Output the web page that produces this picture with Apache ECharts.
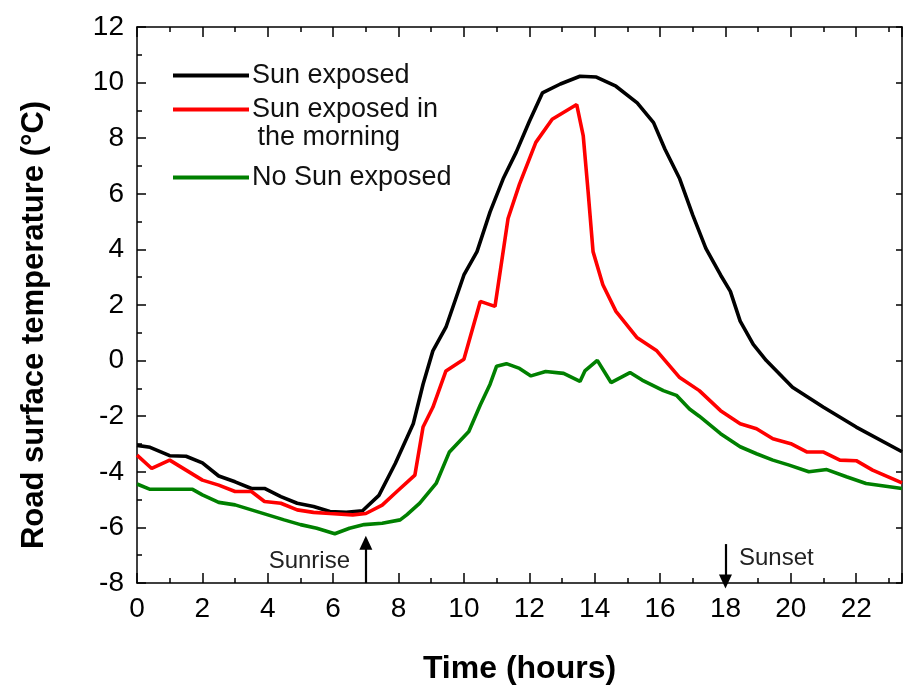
<!DOCTYPE html>
<html>
<head>
<meta charset="utf-8">
<script src="https://cdn.jsdelivr.net/npm/echarts@6/dist/echarts.min.js"></script>
<style>
  html, body { margin: 0; padding: 0; background: #fff; }
  #chart { width: 903px; height: 690px; }
</style>
</head>
<body>
<div id="chart"></div>
<script>
// 数据（小时, °C）
const sunHours = [0, 0.4, 1.0, 1.5, 2.0, 2.5, 3.0, 3.5, 3.9, 4.4, 4.9, 5.4, 5.9, 6.4, 6.9, 7.4, 7.9, 8.45, 8.75, 9.05, 9.45, 10.0, 10.4, 10.8, 11.2, 11.6, 12.0, 12.4, 12.95, 13.55, 14.05, 14.65, 15.3, 15.8, 16.15, 16.6, 17.0, 17.4, 17.85, 18.15, 18.45, 18.85, 19.25, 20.05, 21.0, 22.0, 23.4];
const sunTemp = [-3.05, -3.12, -3.42, -3.44, -3.68, -4.15, -4.36, -4.6, -4.6, -4.89, -5.13, -5.25, -5.43, -5.46, -5.4, -4.85, -3.7, -2.27, -0.85, 0.35, 1.2, 3.08, 3.92, 5.35, 6.54, 7.5, 8.6, 9.63, 9.95, 10.23, 10.2, 9.87, 9.27, 8.56, 7.6, 6.54, 5.23, 4.04, 3.08, 2.49, 1.42, 0.58, 0, -0.96, -1.68, -2.39, -3.28];

const morningHours = [0, 0.45, 1.0, 1.5, 2.0, 2.5, 3.0, 3.5, 3.9, 4.4, 4.9, 5.4, 5.9, 6.6, 7.0, 7.5, 7.95, 8.5, 8.75, 9.05, 9.45, 10.0, 10.5, 10.95, 11.35, 11.7, 12.2, 12.7, 13.45, 13.65, 13.8, 13.95, 14.25, 14.65, 15.3, 15.9, 16.6, 17.2, 17.85, 18.45, 18.95, 19.45, 20.0, 20.5, 21.0, 21.5, 22.0, 22.5, 23.4];
const morningTemp = [-3.4, -3.88, -3.58, -3.94, -4.3, -4.48, -4.71, -4.71, -5.07, -5.13, -5.37, -5.46, -5.5, -5.55, -5.5, -5.2, -4.71, -4.12, -2.39, -1.68, -0.37, 0.05, 2.13, 1.95, 5.11, 6.35, 7.85, 8.68, 9.21, 8.08, 6.06, 3.92, 2.73, 1.77, 0.82, 0.35, -0.61, -1.08, -1.8, -2.27, -2.45, -2.81, -2.99, -3.29, -3.29, -3.58, -3.6, -3.94, -4.4];

const shadeHours = [0, 0.4, 1.7, 2.0, 2.5, 3.0, 3.5, 4.0, 4.5, 5.0, 5.5, 6.05, 6.5, 6.95, 7.5, 8.05, 8.25, 8.65, 9.15, 9.55, 10.15, 10.5, 10.8, 11.0, 11.3, 11.7, 12.05, 12.5, 13.05, 13.55, 13.7, 14.08, 14.5, 15.08, 15.45, 16.1, 16.5, 16.9, 17.2, 17.85, 18.45, 18.95, 19.45, 19.95, 20.55, 21.1, 21.7, 22.3, 23.4];
const shadeTemp = [-4.44, -4.63, -4.63, -4.83, -5.1, -5.19, -5.37, -5.55, -5.73, -5.9, -6.03, -6.23, -6.03, -5.9, -5.85, -5.73, -5.55, -5.13, -4.42, -3.3, -2.55, -1.6, -0.85, -0.2, -0.11, -0.28, -0.55, -0.39, -0.46, -0.75, -0.37, 0.01, -0.79, -0.43, -0.7, -1.08, -1.25, -1.74, -2.0, -2.63, -3.1, -3.35, -3.58, -3.76, -4.0, -3.92, -4.18, -4.42, -4.6];

const seriesNames = ['Sun exposed', 'Sun exposed in the morning', 'No Sun exposed'];
const seriesColors = ['#000000', '#ff0000', '#008000'];
const sunriseHour = 7;
const sunsetHour = 18;

const zip = (xs, ys) => xs.map((x, i) => [x, ys[i]]);

const chart = echarts.init(document.getElementById('chart'));
const font = 'Liberation Sans, Arial, sans-serif';
const axisColor = { color: '#000', width: 1.5 };

const legendItem = (name, top, label) => ({
  data: [name],
  left: 168,
  top: top,
  icon: 'rect',
  itemWidth: 76,
  itemHeight: 4,
  selectedMode: false,
  formatter: () => label,
  textStyle: { fontFamily: font, fontSize: 27, color: '#111', padding: [0, 0, 0, -2] }
});

const lineSeries = (i, data, extra) => Object.assign({
  name: seriesNames[i],
  type: 'line',
  data: data,
  showSymbol: false,
  symbol: 'none',
  lineStyle: { color: seriesColors[i], width: 3.6 },
  itemStyle: { color: seriesColors[i] },
  xAxisIndex: 0,
  yAxisIndex: 0
}, extra || {});

const arrowLine = (x, from, to) => [{ coord: [x, from] }, { coord: [x, to] }];

chart.setOption({
  animation: false,
  grid: { left: 137, right: 1, top: 27, bottom: 103 },
  legend: [
    legendItem(seriesNames[0], 57, 'Sun exposed'),
    legendItem(seriesNames[1], 91, 'Sun exposed in'),
    legendItem(seriesNames[2], 159, 'No Sun exposed')
  ],
  xAxis: [{
    type: 'value', min: 0, max: 23.4, interval: 2,
    axisLine: { onZero: false, lineStyle: axisColor },
    axisTick: { inside: true, length: 10, lineStyle: axisColor },
    minorTick: { show: true, splitNumber: 2, length: 5, lineStyle: axisColor },
    splitLine: { show: false },
    axisLabel: { fontFamily: font, fontSize: 28, color: '#000', margin: 12, showMaxLabel: false },
    name: 'Time (hours)', nameLocation: 'middle', nameGap: 70,
    nameTextStyle: { fontFamily: font, fontSize: 32, fontWeight: 'bold', color: '#000' }
  }, {
    type: 'value', min: 0, max: 23.4, interval: 2, position: 'top',
    axisLine: { onZero: false, lineStyle: axisColor },
    axisTick: { inside: true, length: 10, lineStyle: axisColor },
    minorTick: { show: true, splitNumber: 2, length: 5, lineStyle: axisColor },
    splitLine: { show: false },
    axisLabel: { show: false }
  }],
  yAxis: [{
    type: 'value', min: -8, max: 12, interval: 2,
    axisLine: { show: true, onZero: false, lineStyle: axisColor },
    axisTick: { show: true, inside: true, length: 9, lineStyle: axisColor },
    minorTick: { show: true, splitNumber: 2, length: 5, lineStyle: axisColor },
    splitLine: { show: false },
    axisLabel: { fontFamily: font, fontSize: 28, color: '#000', margin: 13 }
  }, {
    type: 'value', min: -8, max: 12, interval: 2, position: 'right',
    axisLine: { show: true, onZero: false, lineStyle: axisColor },
    axisTick: { show: true, inside: true, length: 6, lineStyle: axisColor },
    splitLine: { show: false },
    axisLabel: { show: false }
  }],
  series: [
    lineSeries(0, zip(sunHours, sunTemp), {
      markLine: {
        silent: true,
        symbol: ['none', 'triangle'],
        symbolSize: [13, 14],
        label: { show: false },
        lineStyle: { color: '#000', width: 2.2, type: 'solid' },
        data: [
          arrowLine(sunriseHour, -8, -6.55),
          arrowLine(sunsetHour, -6.6, -7.95)
        ]
      }
    }),
    lineSeries(1, zip(morningHours, morningTemp)),
    lineSeries(2, zip(shadeHours, shadeTemp))
  ],
  graphic: [
    {
      type: 'text', left: 250, top: 124,
      style: { text: ' the morning', font: '27px ' + font, fill: '#111' }
    },
    {
      type: 'text', x: 350, y: 561,
      style: { text: 'Sunrise', font: '24px ' + font, fill: '#222', align: 'right', verticalAlign: 'middle' }
    },
    {
      type: 'text', x: 739, y: 558,
      style: { text: 'Sunset', font: '24px ' + font, fill: '#222', align: 'left', verticalAlign: 'middle' }
    },
    {
      type: 'text', x: 34, y: 325, rotation: Math.PI / 2,
      style: {
        text: 'Road surface temperature (°C)', font: 'bold 31px ' + font, fill: '#000',
        align: 'center', verticalAlign: 'middle'
      }
    }
  ]
});
</script>
</body>
</html>
